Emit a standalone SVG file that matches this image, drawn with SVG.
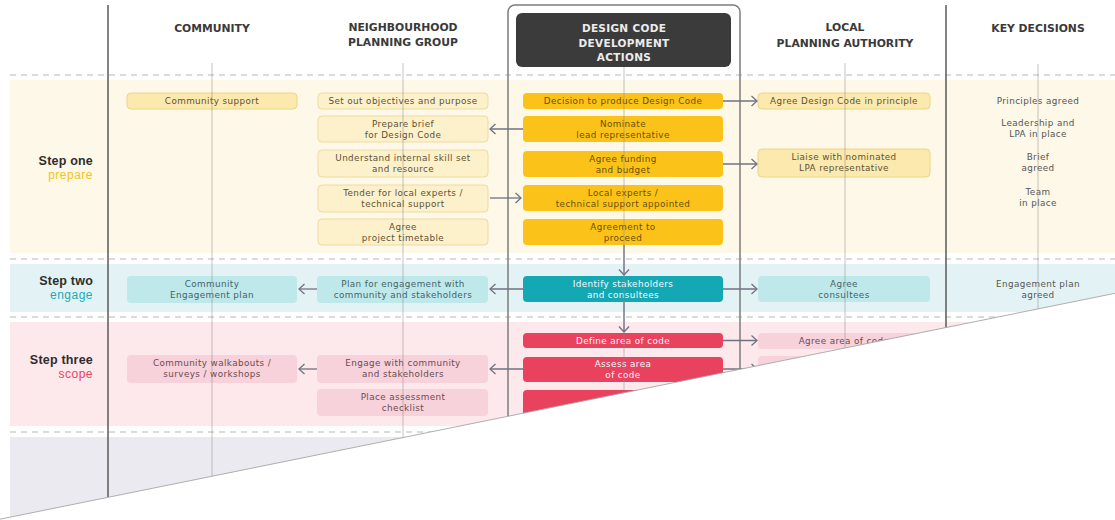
<svg xmlns="http://www.w3.org/2000/svg" width="1115" height="520" viewBox="0 0 1115 520">
  <style>
    .hdr { font-family: "DejaVu Sans", "Liberation Sans", sans-serif; font-weight: bold; font-size: 10.8px; fill: #3a3a3a; text-anchor: middle; }
    .hdr-dark { font-family: "DejaVu Sans", "Liberation Sans", sans-serif; font-weight: bold; font-size: 10.5px; fill: #ececec; text-anchor: middle; letter-spacing: 0.3px; }
    .step { font-family: "Liberation Sans", Arial, sans-serif; font-weight: bold; font-size: 12.5px; fill: #2e2e2e; text-anchor: end; letter-spacing: 0.2px; }
    .phase { font-family: "Liberation Sans", Arial, sans-serif; font-size: 12px; text-anchor: end; letter-spacing: 0.5px; }
    .t { font-family: "DejaVu Sans", "Liberation Sans", sans-serif; font-size: 8.8px; text-anchor: middle; letter-spacing: 0.4px; }
    .band-sep { stroke: #cfcfcf; stroke-width: 1.6; stroke-dasharray: 6 5; fill: none; }
    .frame { stroke: #5a5a5a; stroke-width: 1.5; fill: none; }
    .guide { stroke: #8a8a8a; stroke-width: 1; opacity: 0.5; }
    .y-lt { fill: #fdf1cc; stroke: #eedb9f; stroke-width: 1; }
    .y-md { fill: #fce9ad; stroke: #eed48a; stroke-width: 1; }
    .y-dk { fill: #fbc31a; }
    .c-lt { fill: #bfe8eb; }
    .c-dk { fill: #14a8b4; }
    .p-lt { fill: #f7d2da; }
    .p-dk { fill: #e8425f; }
    .tx-y { fill: #5e5233; }
    .tx-yd { fill: #6a5000; }
    .tx-c { fill: #3f6468; }
    .tx-p { fill: #6c4a52; }
    .tx-w { fill: #f4fbfc; }
    .kd { fill: #555; }
    .conn { stroke: #727282; stroke-width: 1.3; fill: none; marker-end: url(#chev); }
  </style>
  <defs>
    <marker id="chev" markerUnits="userSpaceOnUse" markerWidth="9" markerHeight="12" refX="7" refY="6" orient="auto" viewBox="0 0 9 12">
      <path d="M1.5,1 L7,6 L1.5,11" fill="none" stroke="#727282" stroke-width="1.3"/>
    </marker>
  </defs>

  <!-- page background -->
  <rect x="0" y="0" width="1115" height="520" fill="#ffffff"/>

  <!-- step bands -->
  <g id="bands">
    <rect x="10" y="80" width="1105" height="173" fill="#fdf8e7"/>
    <rect x="10" y="264" width="1105" height="48" fill="#e3f3f5"/>
    <rect x="10" y="322" width="1105" height="104" fill="#fde8ec"/>
    <rect x="10" y="437" width="1105" height="83" fill="#ebeaf0"/>
    <line class="band-sep" x1="10" y1="75" x2="1115" y2="75"/>
    <line class="band-sep" x1="10" y1="259" x2="1115" y2="259"/>
    <line class="band-sep" x1="10" y1="317" x2="1115" y2="317"/>
    <line class="band-sep" x1="10" y1="432" x2="1115" y2="432"/>
  </g>

  <!-- column frames -->
  <g id="frames">
    <line class="frame" x1="108" y1="5" x2="108" y2="520"/>
    <line class="frame" x1="946" y1="5" x2="946" y2="520"/>
    <rect x="508" y="5" width="232" height="540" rx="7" fill="none" stroke="#7c7c7c" stroke-width="1.5"/>
  </g>

  <!-- column headers -->
  <g id="headers">
    <text class="hdr" x="212" y="32">COMMUNITY</text>
    <text class="hdr" x="403" y="31">NEIGHBOURHOOD</text>
    <text class="hdr" x="403" y="46">PLANNING GROUP</text>
    <g id="hdr-actions">
      <rect x="516" y="13" width="215" height="54" rx="6" fill="#3b3b3b"/>
      <text class="hdr-dark" x="624" y="32">DESIGN CODE</text>
      <text class="hdr-dark" x="624" y="46.5">DEVELOPMENT</text>
      <text class="hdr-dark" x="624" y="61">ACTIONS</text>
    </g>
    <text class="hdr" x="845" y="31">LOCAL</text>
    <text class="hdr" x="845" y="47">PLANNING AUTHORITY</text>
    <text class="hdr" x="1038" y="32">KEY DECISIONS</text>
  </g>

  <!-- step labels -->
  <g id="steps">
    <text class="step" x="93" y="164.5">Step one</text>
    <text class="phase" x="93" y="178.5" fill="#f5c411">prepare</text>
    <text class="step" x="93" y="285">Step two</text>
    <text class="phase" x="93" y="298.5" fill="#1aabb6">engage</text>
    <text class="step" x="93" y="364">Step three</text>
    <text class="phase" x="93" y="377.5" fill="#e8446a">scope</text>
  </g>

  <!-- community column -->
  <g id="community-support">
    <rect class="y-md" x="127" y="93" width="170" height="16" rx="4"/>
    <text class="t tx-y" x="212" y="104">Community support</text>
  </g>
  <g id="community-engagement-plan">
    <rect class="c-lt" x="127" y="276" width="170" height="27" rx="4"/>
    <text class="t tx-c" x="212" y="286.5">Community</text>
    <text class="t tx-c" x="212" y="297.5">Engagement plan</text>
  </g>
  <g id="community-walkabouts">
    <rect class="p-lt" x="127" y="355" width="170" height="28" rx="4"/>
    <text class="t tx-p" x="212" y="366">Community walkabouts /</text>
    <text class="t tx-p" x="212" y="377">surveys / workshops</text>
  </g>

  <!-- neighbourhood planning group column -->
  <g id="npg-objectives">
    <rect class="y-lt" x="318" y="93" width="170" height="16" rx="4"/>
    <text class="t tx-y" x="403" y="104">Set out objectives and purpose</text>
  </g>
  <g id="npg-brief">
    <rect class="y-lt" x="318" y="116" width="170" height="26" rx="4"/>
    <text class="t tx-y" x="403" y="126.5">Prepare brief</text>
    <text class="t tx-y" x="403" y="137.5">for Design Code</text>
  </g>
  <g id="npg-skills">
    <rect class="y-lt" x="318" y="150" width="170" height="27" rx="4"/>
    <text class="t tx-y" x="403" y="161">Understand internal skill set</text>
    <text class="t tx-y" x="403" y="172">and resource</text>
  </g>
  <g id="npg-tender">
    <rect class="y-lt" x="318" y="185" width="170" height="27" rx="4"/>
    <text class="t tx-y" x="403" y="195.5">Tender for local experts /</text>
    <text class="t tx-y" x="403" y="206.5">technical support</text>
  </g>
  <g id="npg-timetable">
    <rect class="y-lt" x="318" y="219" width="170" height="26" rx="4"/>
    <text class="t tx-y" x="403" y="229.5">Agree</text>
    <text class="t tx-y" x="403" y="240.5">project timetable</text>
  </g>
  <g id="npg-engagement">
    <rect class="c-lt" x="317" y="276" width="171" height="27" rx="4" fill="#c6ecee"/>
    <text class="t tx-c" x="403" y="286.5">Plan for engagement with</text>
    <text class="t tx-c" x="403" y="297.5">community and stakeholders</text>
  </g>
  <g id="npg-engage">
    <rect class="p-lt" x="317" y="355" width="171" height="28" rx="4"/>
    <text class="t tx-p" x="403" y="366">Engage with community</text>
    <text class="t tx-p" x="403" y="377">and stakeholders</text>
  </g>
  <g id="npg-checklist">
    <rect class="p-lt" x="317" y="389" width="171" height="27" rx="4"/>
    <text class="t tx-p" x="403" y="399.5">Place assessment</text>
    <text class="t tx-p" x="403" y="410.5">checklist</text>
  </g>

  <!-- design code development actions -->
  <g id="act-decision">
    <rect class="y-dk" x="523" y="93" width="200" height="16" rx="4"/>
    <text class="t tx-yd" x="623" y="104">Decision to produce Design Code</text>
  </g>
  <g id="act-nominate">
    <rect class="y-dk" x="523" y="116" width="200" height="26" rx="4"/>
    <text class="t tx-yd" x="623" y="126.5">Nominate</text>
    <text class="t tx-yd" x="623" y="137.5">lead representative</text>
  </g>
  <g id="act-funding">
    <rect class="y-dk" x="523" y="151" width="200" height="26" rx="4"/>
    <text class="t tx-yd" x="623" y="161.5">Agree funding</text>
    <text class="t tx-yd" x="623" y="172.5">and budget</text>
  </g>
  <g id="act-experts">
    <rect class="y-dk" x="523" y="185" width="200" height="26" rx="4"/>
    <text class="t tx-yd" x="623" y="195.5">Local experts /</text>
    <text class="t tx-yd" x="623" y="206.5">technical support appointed</text>
  </g>
  <g id="act-proceed">
    <rect class="y-dk" x="523" y="219" width="200" height="26" rx="4"/>
    <text class="t tx-yd" x="623" y="229.5">Agreement to</text>
    <text class="t tx-yd" x="623" y="240.5">proceed</text>
  </g>
  <g id="act-stakeholders">
    <rect class="c-dk" x="523" y="276" width="200" height="26" rx="4"/>
    <text class="t tx-w" x="623" y="286.5">Identify stakeholders</text>
    <text class="t tx-w" x="623" y="297.5">and consultees</text>
  </g>
  <g id="act-define">
    <rect class="p-dk" x="523" y="333" width="200" height="15" rx="4"/>
    <text class="t tx-w" x="623" y="343.5">Define area of code</text>
  </g>
  <g id="act-assess">
    <rect class="p-dk" x="523" y="357" width="200" height="25" rx="4"/>
    <text class="t tx-w" x="623" y="367">Assess area</text>
    <text class="t tx-w" x="623" y="378">of code</text>
  </g>
  <g id="act-next">
    <rect class="p-dk" x="523" y="390" width="200" height="28" rx="4"/>
  </g>

  <!-- local planning authority column -->
  <g id="lpa-principle">
    <rect class="y-md" x="758" y="93" width="172" height="16" rx="4"/>
    <text class="t tx-y" x="844" y="104">Agree Design Code in principle</text>
  </g>
  <g id="lpa-liaise">
    <rect class="y-md" x="758" y="149" width="172" height="28" rx="4"/>
    <text class="t tx-y" x="844" y="160">Liaise with nominated</text>
    <text class="t tx-y" x="844" y="171">LPA representative</text>
  </g>
  <g id="lpa-consultees">
    <rect class="c-lt" x="758" y="276" width="172" height="26" rx="4"/>
    <text class="t tx-c" x="844" y="286.5">Agree</text>
    <text class="t tx-c" x="844" y="297.5">consultees</text>
  </g>
  <g id="lpa-area">
    <rect class="p-lt" x="758" y="333" width="172" height="16" rx="4"/>
    <text class="t tx-p" x="844" y="344">Agree area of code</text>
  </g>
  <g id="lpa-next">
    <rect class="p-lt" x="758" y="356" width="172" height="26" rx="4"/>
  </g>

  <!-- key decisions -->
  <g id="key-decisions">
    <text class="t kd" x="1038" y="104">Principles agreed</text>
    <text class="t kd" x="1038" y="126">Leadership and</text>
    <text class="t kd" x="1038" y="137">LPA in place</text>
    <text class="t kd" x="1038" y="160">Brief</text>
    <text class="t kd" x="1038" y="171">agreed</text>
    <text class="t kd" x="1038" y="195">Team</text>
    <text class="t kd" x="1038" y="206">in place</text>
    <text class="t kd" x="1038" y="286.5">Engagement plan</text>
    <text class="t kd" x="1038" y="297.5">agreed</text>
  </g>

  <!-- column centre guides -->
  <g id="guides">
    <line class="guide" x1="212" y1="63" x2="212" y2="520"/>
    <line class="guide" x1="403" y1="63" x2="403" y2="520"/>
    <line class="guide" x1="624" y1="67" x2="624" y2="520"/>
    <line class="guide" x1="845" y1="63" x2="845" y2="520"/>
    <line class="guide" x1="1038" y1="64" x2="1038" y2="520"/>
  </g>

  <!-- connectors -->
  <g id="connectors">
    <line class="conn" x1="723" y1="101" x2="757" y2="101"/>
    <line class="conn" x1="523" y1="129" x2="490" y2="129"/>
    <line class="conn" x1="723" y1="164" x2="757" y2="164"/>
    <line class="conn" x1="490" y1="198" x2="521" y2="198"/>
    <line class="conn" x1="624" y1="245" x2="624" y2="275"/>
    <line class="conn" x1="523" y1="289" x2="490" y2="289"/>
    <line class="conn" x1="317" y1="289" x2="299" y2="289"/>
    <line class="conn" x1="723" y1="289" x2="757" y2="289"/>
    <line class="conn" x1="624" y1="302" x2="624" y2="332"/>
    <line class="conn" x1="723" y1="340.5" x2="757" y2="340.5"/>
    <line class="conn" x1="523" y1="369" x2="490" y2="369"/>
    <line class="conn" x1="317" y1="369" x2="299" y2="369"/>
    <line class="conn" x1="723" y1="369" x2="757" y2="369"/>
  </g>

  <!-- torn page corner -->
  <g id="page-edge">
    <polygon points="0,519.2 1115,293.3 1115,520 0,520" fill="#ffffff"/>
    <line x1="0" y1="519.2" x2="1115" y2="293.3" stroke="#a6a6a6" stroke-width="0.9"/>
  </g>
</svg>
